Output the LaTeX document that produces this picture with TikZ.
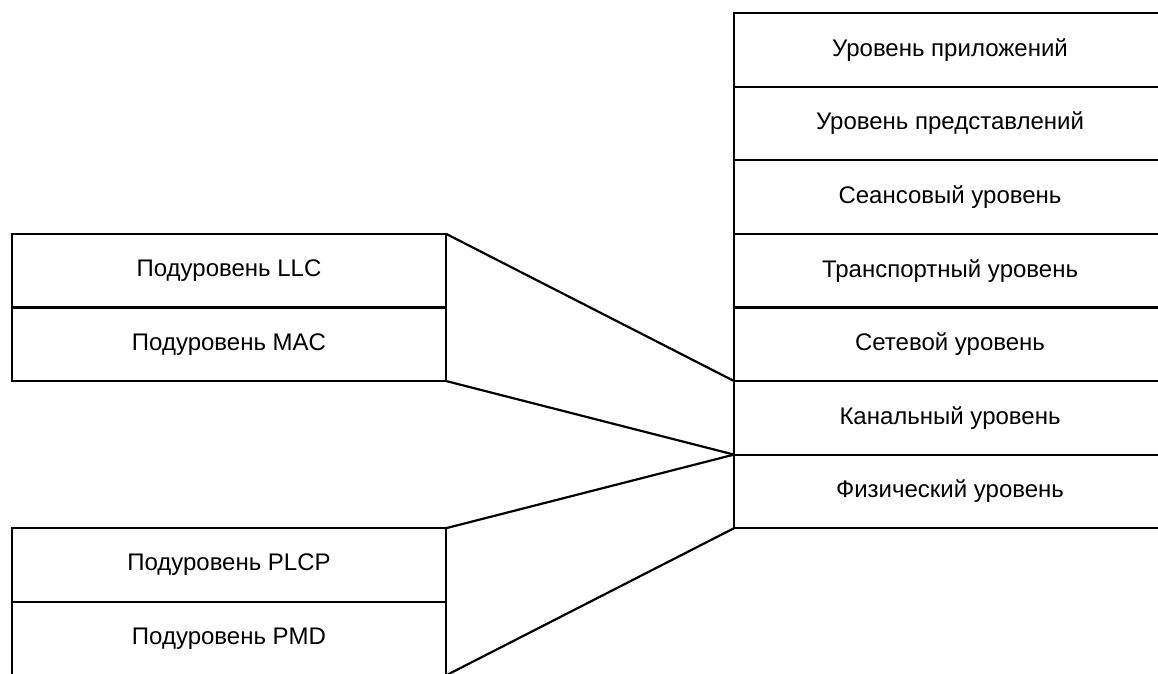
\documentclass[tikz,border=0pt]{standalone}
\usepackage{fontspec}
\setmainfont{Liberation Sans}
\usetikzlibrary{positioning}

\begin{document}
\begin{tikzpicture}[
      x=1pt, y=-1pt,
      line width=2.2pt,
      font=\fontsize{24}{28}\selectfont,
      node distance=0pt,
      layer/.style={draw, inner sep=0pt, outer sep=0pt,
        minimum width=432pt, minimum height=73.6pt},
      sublayer/.style={draw, inner sep=0pt, outer sep=0pt,
        minimum width=434pt, minimum height=73.6pt}
    ]
    \useasboundingbox (0,0) rectangle (1158,673);
    \clip (0,0) rectangle (1158,673);
    % OSI stack
    \node (app) [layer] at (950,49.8) {Уровень приложений};
    \node (pres) [layer,below=of app] {Уровень представлений};
    \node (sess) [layer,below=of pres] {Сеансовый уровень};
    \node (trans) [layer,below=of sess] {Транспортный уровень};
    \node (net) [layer,below=of trans] {Сетевой уровень};
    \node (dlink) [layer,below=of net] {Канальный уровень};
    \node (phys) [layer,below=of dlink] {Физический уровень};
    % sublayers
    \node (llc) [sublayer] at (229,270.6) {Подуровень LLC};
    \node (mac) [sublayer,below=of llc] {Подуровень MAC};
    \node (plcp) [sublayer] at (229,565) {Подуровень PLCP};
    \node (pmd) [sublayer,below=of plcp] {Подуровень PMD};
    % fan lines
    \draw (llc.north east) -- (dlink.north west);
    \draw (mac.south east) -- (phys.north west);
    \draw (plcp.north east) -- (phys.north west);
    \draw (pmd.south east) -- (phys.south west);
  \end{tikzpicture}
\end{document}
